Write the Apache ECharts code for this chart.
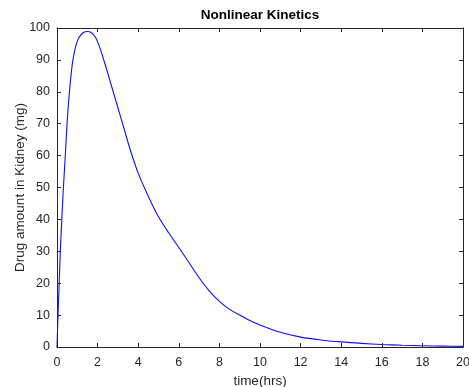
<!DOCTYPE html>
<html>
<head>
<meta charset="utf-8">
<script src="https://cdn.jsdelivr.net/npm/echarts@6/dist/echarts.min.js"></script>
<style>html,body{margin:0;padding:0;background:#fff}#c{width:469px;height:387px}</style>
</head>
<body>
<div id="c"></div>
<script>
var timeHrs = [0,0.05,0.1,0.15,0.2,0.3,0.4,0.5,0.6,0.75,0.9,1.0,1.1,1.3,1.5,1.7,1.9,2.1,2.4,2.7,3.0,3.3,3.6,4.0,4.5,5.0,5.5,6.0,6.5,7.0,7.5,8.0,8.5,9.0,9.5,10,11,12,13,14,15,16,17,18,19,20];
var drugAmount = [0,10,18.5,28,35,48.3,59,70.5,79,88.5,93.8,95.8,97.2,98.6,98.9,98.5,97,94,88,81.5,75,68.5,62,54.5,47.2,40.8,35.8,31.2,26.5,21.7,17.6,14.3,11.8,10.0,8.3,6.9,4.6,3.1,2.2,1.6,1.15,0.8,0.55,0.4,0.28,0.2];
var xTicks = [0,2,4,6,8,10,12,14,16,18,20];
var yTicks = [0,10,20,30,40,50,60,70,80,90,100];

var font = 'Arial, "Liberation Sans", Helvetica, sans-serif';
var axisColor = '#262626';
var pts = timeHrs.map(function(t,i){return [t, drugAmount[i]];});

function xAx(pos, show){
  return {type:'value', position:pos, min:xTicks[0], max:xTicks[xTicks.length-1], interval:xTicks[1]-xTicks[0],
    axisLine:{show:true, onZero:false, lineStyle:{color:axisColor, width:1}},
    axisTick:{show:true, inside:true, length:4, lineStyle:{color:axisColor}},
    axisLabel:{show:show, color:axisColor, fontFamily:font, fontSize:12.5, margin:9},
    splitLine:{show:false},
    name: show ? 'time(hrs)' : '', nameLocation:'middle', nameGap:27, nameMoveOverlap:false,
    nameTextStyle:{color:axisColor, fontFamily:font, fontSize:13.5}};
}
function yAx(pos, show){
  return {type:'value', position:pos, min:yTicks[0], max:yTicks[yTicks.length-1], interval:yTicks[1]-yTicks[0],
    axisLine:{show:true, onZero:false, lineStyle:{color:axisColor, width:1}},
    axisTick:{show:true, inside:true, length:4, lineStyle:{color:axisColor}},
    axisLabel:{show:show, color:axisColor, fontFamily:font, fontSize:12.5, margin:7},
    splitLine:{show:false},
    name: show ? 'Drug amount in Kidney (mg)' : '', nameLocation:'middle', nameGap:30, nameMoveOverlap:false,
    nameTextStyle:{color:axisColor, fontFamily:font, fontSize:13.5}};
}

var chart = echarts.init(document.getElementById('c'), null, {renderer:'canvas'});
chart.setOption({
  animation:false,
  backgroundColor:'#ffffff',
  title:{text:'Nonlinear Kinetics', left:255, top:3, textAlign:'center',
    textStyle:{fontFamily:font, fontSize:13.5, fontWeight:'bold', color:'#000'}},
  grid:{left:57, right:6, top:28, bottom:40, containLabel:false, outerBoundsMode:'none'},
  xAxis:[xAx('bottom', true), xAx('top', false)],
  yAxis:[yAx('left', true), yAx('right', false)],
  series:[{type:'line', data:pts, smooth:0.3, showSymbol:false, symbol:'none',
    lineStyle:{color:'#1010f0', width:1.1}, xAxisIndex:0, yAxisIndex:0}]
});
</script>
</body>
</html>
